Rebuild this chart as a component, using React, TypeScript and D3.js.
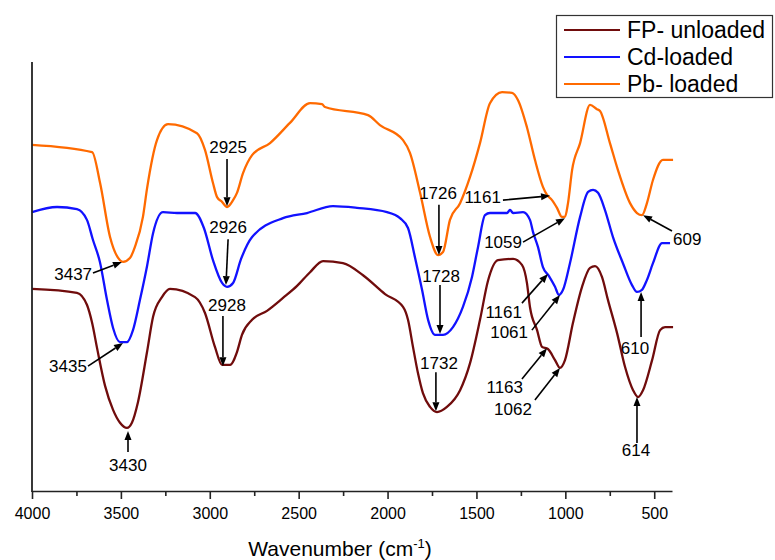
import React, { useEffect, useRef } from "react";
import * as d3 from "d3";

// Pb- loaded (orange)
const pbWavenumber = [4000, 3662, 3617, 3561, 3505, 3488, 3449, 3421, 3376, 3353, 3297, 3235, 3072, 3027, 2982, 2959, 2931, 2903, 2869, 2847, 2813, 2762, 2661, 2549, 2436, 2369, 2352, 2110, 2043, 1913, 1874, 1817, 1761, 1716, 1688, 1649, 1592, 1536, 1480, 1424, 1356, 1300, 1266, 1216, 1171, 1126, 1103, 1075, 1047, 1019, 1002, 985, 962, 917, 861, 822, 805, 749, 704, 636, 597, 569, 541, 507, 451, 394];
const pbValues = [80.7, 79.0, 71.8, 59.2, 53.8, 53.4, 54.3, 56.9, 63.9, 70.5, 81.8, 85.5, 83.4, 79.5, 71.8, 68.5, 67.4, 66.2, 67.8, 69.5, 74.1, 78.3, 81.1, 85.8, 90.4, 90.2, 89.5, 87.6, 85.3, 81.8, 78.8, 69.5, 59.2, 55.0, 55.7, 63.2, 67.1, 73.2, 81.1, 90.4, 93.0, 92.8, 91.1, 84.8, 77.2, 70.9, 69.0, 67.8, 66.0, 63.9, 63.9, 67.1, 74.8, 81.1, 90.0, 89.0, 88.6, 81.1, 74.8, 67.1, 64.8, 64.3, 67.1, 72.5, 77.2, 77.2];

// Cd-loaded (blue)
const cdWavenumber = [4000, 3859, 3747, 3691, 3657, 3618, 3578, 3544, 3505, 3466, 3432, 3393, 3353, 3319, 3263, 3184, 3083, 3033, 2982, 2931, 2903, 2869, 2824, 2762, 2588, 2453, 2307, 2172, 2003, 1930, 1885, 1846, 1806, 1772, 1733, 1688, 1632, 1576, 1525, 1491, 1452, 1424, 1328, 1311, 1294, 1238, 1199, 1182, 1154, 1126, 1092, 1058, 1036, 1013, 974, 917, 872, 844, 816, 777, 732, 676, 625, 597, 569, 541, 507, 456, 411];
const cdValues = [65.0, 66.2, 65.7, 63.2, 58.5, 53.4, 44.5, 38.0, 34.7, 34.7, 37.5, 44.5, 52.4, 60.1, 65.0, 64.8, 64.8, 61.3, 53.8, 48.5, 47.6, 48.5, 54.1, 59.2, 63.6, 64.8, 66.4, 66.0, 65.0, 63.6, 61.3, 54.5, 46.9, 39.9, 36.4, 36.4, 38.2, 42.9, 49.9, 56.9, 64.3, 64.8, 64.8, 65.5, 64.8, 65.0, 63.2, 60.4, 56.9, 52.2, 50.1, 47.6, 45.7, 46.9, 53.1, 63.9, 69.7, 70.2, 69.5, 65.5, 59.2, 53.1, 48.0, 46.4, 46.9, 49.2, 53.1, 57.8, 57.8];

// FP- unloaded (maroon)
const fpWavenumber = [4000, 3747, 3691, 3662, 3634, 3589, 3544, 3505, 3466, 3438, 3404, 3353, 3319, 3269, 3224, 3083, 3027, 2971, 2931, 2886, 2847, 2819, 2762, 2678, 2588, 2509, 2436, 2363, 2251, 2138, 2014, 1913, 1885, 1857, 1829, 1801, 1761, 1722, 1666, 1592, 1536, 1480, 1435, 1379, 1294, 1244, 1216, 1199, 1159, 1131, 1098, 1058, 1030, 1002, 957, 906, 861, 833, 794, 760, 709, 664, 619, 591, 563, 512, 467, 439, 394];
const fpValues = [47.1, 46.2, 43.4, 39.2, 33.3, 24.5, 18.9, 15.9, 14.7, 15.9, 20.7, 32.4, 40.6, 45.2, 47.1, 45.2, 41.5, 33.6, 29.4, 29.4, 32.4, 36.4, 39.9, 42.0, 45.0, 47.8, 51.0, 53.6, 53.1, 50.3, 45.9, 42.9, 39.9, 33.6, 27.5, 22.8, 19.6, 18.4, 19.6, 23.5, 29.8, 39.9, 49.0, 53.8, 54.1, 52.7, 48.5, 42.9, 37.5, 33.6, 33.1, 30.5, 28.7, 30.5, 39.2, 47.6, 52.0, 52.4, 49.9, 44.5, 36.8, 28.9, 23.5, 21.9, 23.5, 30.5, 37.5, 38.2, 38.2];

const seriesNames = ["FP- unloaded", "Cd-loaded", "Pb- loaded"];
const seriesColors = ["#700c0c", "#1212ff", "#ff6a00"];

const majorTicks = [4000, 3500, 3000, 2500, 2000, 1500, 1000, 500];
const minorTicks = [3750, 3250, 2750, 2250, 1750, 1250, 750];

// peak labels: tip and tail of arrow and text position, in [wavenumber, value]
const peakLabels = [
  { text: "2925", tip: [2903, 66.4], tail: [2903, 77.4], at: [2897, 78.8], anchor: "middle" },
  { text: "2926", tip: [2909, 48.0], tail: [2897, 58.7], at: [2897, 60.1], anchor: "middle" },
  { text: "2928", tip: [2926, 29.1], tail: [2926, 40.8], at: [2903, 42.0], anchor: "middle" },
  { text: "3437", tip: [3494, 53.4], tail: [3657, 50.8], at: [3662, 49.2], anchor: "end" },
  { text: "3435", tip: [3488, 34.5], tail: [3685, 29.1], at: [3691, 27.7], anchor: "end" },
  { text: "3430", tip: [3460, 14.0], tail: [3460, 9.1], at: [3460, 4.7], anchor: "middle" },
  { text: "1726", tip: [1711, 55.0], tail: [1711, 66.7], at: [1716, 68.1], anchor: "middle" },
  { text: "1728", tip: [1705, 36.6], tail: [1705, 48.0], at: [1699, 48.7], anchor: "middle" },
  { text: "1732", tip: [1728, 18.6], tail: [1728, 27.7], at: [1711, 28.4], anchor: "middle" },
  { text: "1161", tip: [1086, 68.8], tail: [1351, 67.8], at: [1362, 67.1], anchor: "end" },
  { text: "1059", tip: [1002, 63.6], tail: [1238, 58.0], at: [1244, 56.6], anchor: "end" },
  { text: "1161", tip: [1098, 50.6], tail: [1244, 43.8], at: [1244, 40.3], anchor: "end" },
  { text: "1061", tip: [1030, 45.7], tail: [1188, 37.5], at: [1210, 35.7], anchor: "end" },
  { text: "1163", tip: [1103, 33.3], tail: [1244, 26.1], at: [1238, 22.8], anchor: "end" },
  { text: "1062", tip: [1030, 28.7], tail: [1171, 21.2], at: [1188, 17.7], anchor: "end" },
  { text: "610", tip: [574, 46.4], tail: [574, 35.9], at: [608, 31.9], anchor: "middle" },
  { text: "614", tip: [597, 21.9], tail: [597, 11.2], at: [603, 8.2], anchor: "middle" },
  { text: "609", tip: [563, 64.3], tail: [400, 60.6], at: [394, 57.3], anchor: "start" },
];

const width = 775;
const height = 560;
const font = "Liberation Sans, Arial, sans-serif";

const App = () => {
  const svgRef = useRef(null);

  useEffect(() => {
    const svg = d3.select(svgRef.current);
    svg.selectAll("*").remove();

    const x = d3.scaleLinear().domain([4000, 400]).range([32, 672]);
    const y = d3.scaleLinear().domain([0, 100]).range([491, 62]);

    const line = d3
      .line()
      .x((d) => x(d[0]))
      .y((d) => y(d[1]))
      .curve(d3.curveMonotoneX);

    const series = [
      d3.zip(fpWavenumber, fpValues),
      d3.zip(cdWavenumber, cdValues),
      d3.zip(pbWavenumber, pbValues),
    ];

    series.forEach((pts, i) => {
      svg
        .append("path")
        .attr("d", line(pts))
        .attr("fill", "none")
        .attr("stroke", seriesColors[i])
        .attr("stroke-width", 2.3)
        .attr("stroke-linejoin", "round");
    });

    // bottom axis
    const xAxis = svg.append("g").attr("transform", "translate(0,491)");
    xAxis.call(
      d3.axisBottom(x).tickValues(majorTicks).tickSize(8).tickSizeOuter(0).tickPadding(9).tickFormat(d3.format("d"))
    );
    xAxis.select(".domain").attr("stroke", "#222").attr("stroke-width", 1.6);
    xAxis.selectAll(".tick line").attr("stroke", "#222").attr("stroke-width", 1.6);
    xAxis.selectAll(".tick text").attr("font-family", font).attr("font-size", 16).attr("fill", "#000");

    const minor = svg.append("g").attr("transform", "translate(0,491)");
    minor.call(d3.axisBottom(x).tickValues(minorTicks).tickSize(5).tickSizeOuter(0).tickFormat(() => ""));
    minor.select(".domain").remove();
    minor.selectAll(".tick line").attr("stroke", "#222").attr("stroke-width", 1.6);

    // left axis line only
    svg
      .append("line")
      .attr("x1", x(4000))
      .attr("x2", x(4000))
      .attr("y1", y(100))
      .attr("y2", y(0) + 1)
      .attr("stroke", "#222")
      .attr("stroke-width", 1.8);

    // axis title
    const title = svg
      .append("text")
      .attr("x", 340)
      .attr("y", 556)
      .attr("text-anchor", "middle")
      .attr("font-family", font)
      .attr("font-size", 21)
      .attr("fill", "#000");
    title.append("tspan").text("Wavenumber (cm");
    title.append("tspan").attr("dy", -8).attr("font-size", 13).text("-1");
    title.append("tspan").attr("dy", 8).text(")");

    // peak annotations
    const ann = svg.append("g");
    peakLabels.forEach((p) => {
      const x1 = x(p.tail[0]);
      const y1 = y(p.tail[1]);
      const x2 = x(p.tip[0]);
      const y2 = y(p.tip[1]);
      const ang = Math.atan2(y2 - y1, x2 - x1);
      const len = 9;
      const half = 3.5;
      const bx = x2 - len * Math.cos(ang);
      const by = y2 - len * Math.sin(ang);
      ann
        .append("line")
        .attr("x1", x1)
        .attr("y1", y1)
        .attr("x2", bx)
        .attr("y2", by)
        .attr("stroke", "#000")
        .attr("stroke-width", 1.6);
      const pts = [
        [x2, y2],
        [bx - half * Math.sin(ang), by + half * Math.cos(ang)],
        [bx + half * Math.sin(ang), by - half * Math.cos(ang)],
      ];
      ann.append("polygon").attr("points", pts.map((q) => q.join(",")).join(" ")).attr("fill", "#000");
      ann
        .append("text")
        .attr("x", x(p.at[0]))
        .attr("y", y(p.at[1]))
        .attr("text-anchor", p.anchor)
        .attr("font-family", font)
        .attr("font-size", 17)
        .attr("fill", "#000")
        .text(p.text);
    });

    // legend
    const lg = svg.append("g");
    lg.append("rect")
      .attr("x", 556.5)
      .attr("y", 15.5)
      .attr("width", 216)
      .attr("height", 82)
      .attr("fill", "#fff")
      .attr("stroke", "#333")
      .attr("stroke-width", 1.2);
    seriesNames.forEach((name, i) => {
      const ly = 30 + i * 27;
      lg.append("line")
        .attr("x1", 564)
        .attr("x2", 620)
        .attr("y1", ly)
        .attr("y2", ly)
        .attr("stroke", seriesColors[i])
        .attr("stroke-width", 2.2);
      lg.append("text")
        .attr("x", 627)
        .attr("y", ly + 8)
        .attr("font-family", font)
        .attr("font-size", 23)
        .attr("fill", "#000")
        .text(name);
    });
  }, []);

  return (
    <svg
      ref={svgRef}
      width={width}
      height={height}
      style={{ position: "absolute", left: 0, top: 0, background: "#fff" }}
    ></svg>
  );
};

export default App;
